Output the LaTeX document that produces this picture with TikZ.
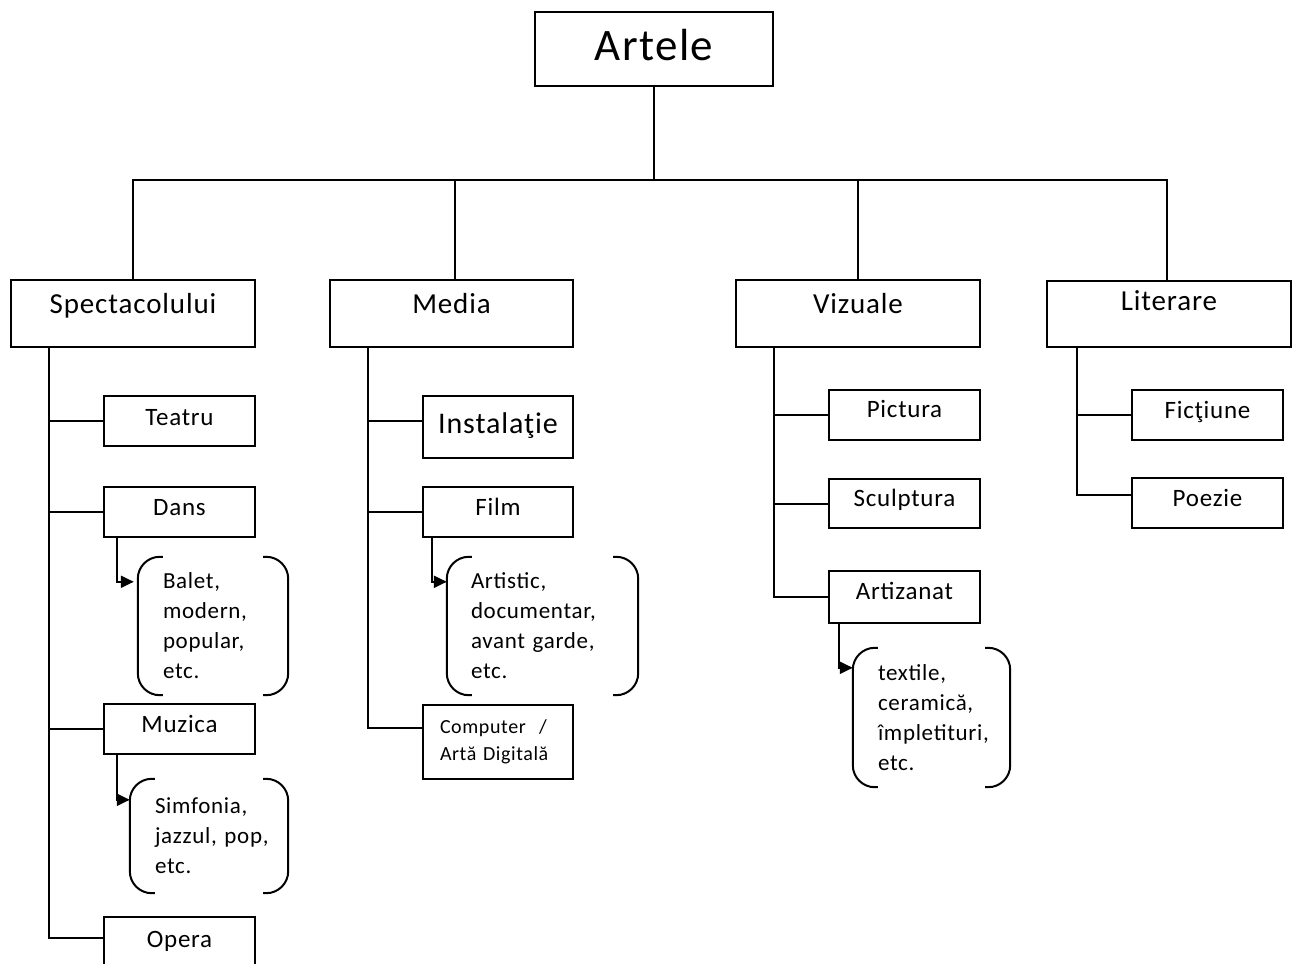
\documentclass[tikz,border=0pt]{standalone}
\usepackage{fontspec}
\setmainfont[LetterSpace=3]{Carlito}
\usetikzlibrary{arrows.meta}
\begin{document}
\begin{tikzpicture}[x=1pt,y=-1pt,
  box/.style={draw, line width=2pt, rectangle, inner sep=0pt},
  bigt/.style={font=\fontsize{45}{50}\selectfont, anchor=base, inner sep=0pt},
  midt/.style={font=\fontsize{29}{34}\selectfont, anchor=base, inner sep=0pt},
  smallt/.style={font=\fontsize{25}{30}\selectfont, anchor=base, inner sep=0pt},
  brk/.style={rectangle, inner xsep=25pt, inner ysep=0pt, align=left, font=\fontsize{23}{30}\selectfont},
  conn/.style={line width=2pt},
  arr/.style={line width=2pt, -{Triangle[length=13pt,width=12pt]}},
  bracket/.style={line width=2pt, rounded corners=22pt}
]
\clip (0,0) rectangle (1299,964);
\fill[white] (0,0) rectangle (1299,964);

% top
\node[box, minimum width=238, minimum height=74] (artele) at (654,49) {};
\node[bigt] (arteletxt) at (654,60) {Artele};

% level 2
\node[box, minimum width=244, minimum height=67] (spec) at (133,313.5) {};
\node[midt] (spectxt) at (133,313) {Spectacolului};
\node[box, minimum width=243, minimum height=67] (media) at (451.5,313.5) {};
\node[midt] (mediatxt) at (451.5,313) {Media};
\node[box, minimum width=244, minimum height=67] (viz) at (858,313.5) {};
\node[midt] (viztxt) at (858,313) {Vizuale};
\node[box, minimum width=244, minimum height=66] (lit) at (1169,314) {};
\node[midt] (littxt) at (1169,310) {Literare};

\coordinate (bus) at (654,180);
\draw[conn] (artele.south) -- (bus);
\draw[conn] (spec.north) |- (bus);
\draw[conn] ([xshift=3pt]media.north) |- (bus);
\draw[conn] (viz.north) |- (bus);
\draw[conn] ([xshift=-2pt]lit.north) |- (bus);

% Spectacolului children
\node[box, minimum width=151, minimum height=50] (teatru) at (179.5,421) {};
\node[smallt] (teatrutxt) at (179.5,425) {Teatru};
\node[box, minimum width=151, minimum height=50] (dans) at (179.5,512) {};
\node[smallt] (danstxt) at (179.5,515) {Dans};
\node[box, minimum width=151, minimum height=50] (muzica) at (179.5,729) {};
\node[smallt] (muzicatxt) at (179.5,732) {Muzica};
\node[box, minimum width=151, minimum height=52] (opera) at (179.5,943) {};
\node[smallt] (operatxt) at (179.5,947) {Opera};

\node[brk, minimum width=150, minimum height=138, text width=100pt] (balet) at (213,626) {Balet,\\modern,\\popular,\\etc.};
\node[brk, minimum width=158, minimum height=114, text width=108pt] (simf) at (209,836) {Simfonia,\\\mbox{jazzul, pop,}\\etc.};

\draw[conn] ([xshift=39pt]spec.south west) |- (teatru.west);
\draw[conn] ([xshift=39pt]spec.south west) |- (dans.west);
\draw[conn] ([xshift=39pt]spec.south west) |- (muzica.west);
\draw[conn] ([xshift=39pt]spec.south west) |- ([yshift=5pt]opera.west);
\draw[arr, shorten >=4pt] ([xshift=14pt]dans.south west) |- ([yshift=-25pt]balet.north west);
\draw[arr, shorten >=0pt] ([xshift=14pt]muzica.south west) |- ([yshift=-21pt]simf.north west);

% Media children
\node[box, minimum width=150, minimum height=62] (instal) at (498,427) {};
\node[midt, font=\fontsize{30}{34}\selectfont] (instaltxt) at (498,433) {Instalaţie};
\node[box, minimum width=150, minimum height=50] (film) at (498,512) {};
\node[smallt] (filmtxt) at (498,515) {Film};
\node[brk, minimum width=191, minimum height=138, inner xsep=24pt, text width=143pt] (artistic) at (542.5,626) {Artistic,\\documentar,\\\mbox{avant garde,}\\etc.};
\node[box, minimum width=150, minimum height=74, align=left, inner xsep=17pt, text width=116pt, font=\fontsize{20}{27}\selectfont] (computer) at (498,742) {\mbox{Computer\ \ /}\\\mbox{Artă Digitală}};

\draw[conn] ([xshift=39pt]media.south west) |- ([yshift=6pt]instal.west);
\draw[conn] ([xshift=39pt]media.south west) |- (film.west);
\draw[conn] ([xshift=39pt]media.south west) |- ([yshift=14pt]computer.west);
\draw[arr, shorten >=0pt] ([xshift=10pt]film.south west) |- ([yshift=-25pt]artistic.north west);

% Vizuale children
\node[box, minimum width=151, minimum height=50] (pictura) at (904.5,415) {};
\node[smallt] (picturatxt) at (904.5,417) {Pictura};
\node[box, minimum width=151, minimum height=49] (sculptura) at (904.5,503.5) {};
\node[smallt] (sculpturatxt) at (904.5,506) {Sculptura};
\node[box, minimum width=151, minimum height=52] (artizanat) at (904.5,597) {};
\node[smallt] (artizanattxt) at (904.5,599) {Artizanat};
\node[brk, minimum width=157, minimum height=139, text width=107pt] (textile) at (931.5,717.5) {textile,\\ceramică,\\împletituri,\\etc.};

\draw[conn] ([xshift=39pt]viz.south west) |- (pictura.west);
\draw[conn] ([xshift=39pt]viz.south west) |- (sculptura.west);
\draw[conn] ([xshift=39pt]viz.south west) |- (artizanat.west);
\draw[arr, shorten >=0pt] ([xshift=11pt]artizanat.south west) |- ([yshift=-20pt]textile.north west);

% Literare children
\node[box, minimum width=151, minimum height=50] (fictiune) at (1207.5,415) {};
\node[smallt] (fictiunetxt) at (1207.5,418) {Ficţiune};
\node[box, minimum width=151, minimum height=50] (poezie) at (1207.5,503) {};
\node[smallt] (poezietxt) at (1207.5,506) {Poezie};

\draw[conn] ([xshift=31pt]lit.south west) |- (fictiune.west);
\draw[conn] ([xshift=31pt]lit.south west) |- ([yshift=8pt]poezie.west);

% brackets
\foreach \b in {balet,simf,artistic,textile}{
  \draw[bracket] ([xshift=25pt]\b.north west) -- (\b.north west) -- (\b.south west) -- ([xshift=25pt]\b.south west);
  \draw[bracket] ([xshift=-25pt]\b.north east) -- (\b.north east) -- (\b.south east) -- ([xshift=-25pt]\b.south east);
}
\end{tikzpicture}
\end{document}
